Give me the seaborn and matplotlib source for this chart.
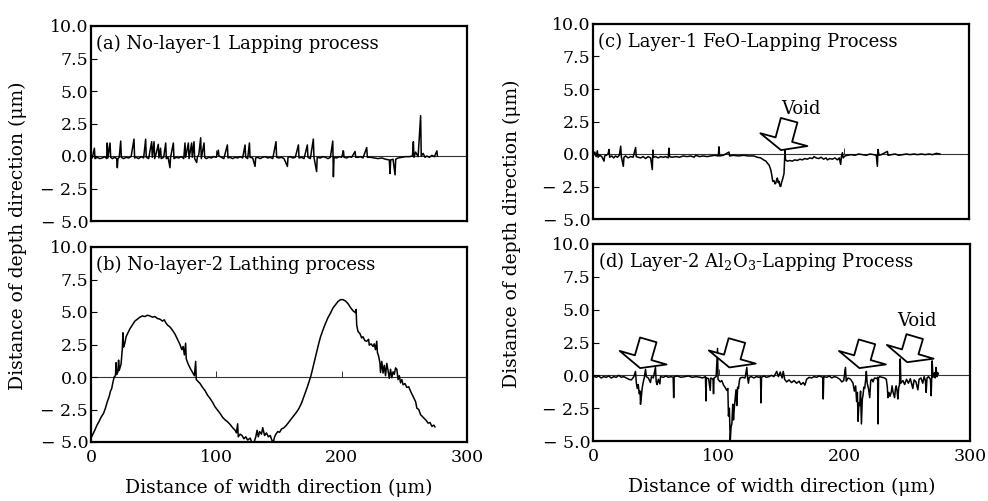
import matplotlib
matplotlib.use("Agg")
import matplotlib.pyplot as plt
import seaborn as sns
import numpy as np
import pandas as pd

# ---------------- data ----------------
a_pts = [(1.0, -0.15), (2.7, 0.6), (3.2, -0.2), (5, -0.1), (7, -0.2), (9, -0.15), (11, -0.05), (12.5, -0.2),
         (13, 1.0), (13.5, -0.15), (15.2, 1.0), (15.7, -0.1), (17, -0.2), (19, -0.1), (20.5, -0.2), (21, -0.9),
         (21.5, -0.2), (22.5, -0.1), (23.7, 1.15), (24.2, -0.1), (26, -0.2), (28, -0.1), (30, -0.15), (32, -0.05),
         (34.3, 1.3), (34.8, -0.15), (36, -0.1), (38, -0.2), (40, -0.05), (42, -0.15), (43.6, 1.3), (44.1, -0.1),
         (46, -0.2), (48.4, 1.1), (48.9, -0.1), (50.3, 1.1), (50.8, -0.2), (52, 0.2), (53.7, 0.9), (54.2, -0.15),
         (55.5, 0.6), (56, -0.2), (58, -0.1), (59.6, 1.0), (60.1, -0.2), (61.5, -0.1), (63, -0.9), (63.5, -0.1),
         (65.7, 1.0), (66.2, -0.2), (68, -0.1), (70, -0.15), (72, -0.05), (74, -0.2), (75, 1.0), (75.5, -0.1),
         (77.7, 1.0), (78.2, -0.2), (80.3, 1.0), (80.8, -0.1), (82.2, 1.1), (82.7, -0.2), (84.3, -0.5), (84.8, -0.1),
         (86, 0.1), (87.5, 1.4), (88, -0.2), (90.2, 1.0), (90.7, -0.1), (92, -0.2), (94, -0.1), (96, -0.15),
         (98, -0.05), (100, -0.1), (101.6, 0.45), (102.1, 0.0), (104, -0.1), (106, -0.2), (108.8, 0.85),
         (109.3, -0.15), (111, -0.1), (113, -0.2), (115, -0.1), (117, -0.15), (119, -0.05), (121, -0.15),
         (122.9, 0.85), (123.4, -0.1), (125, -0.2), (126.4, 1.0), (126.9, -0.1), (129, -0.15), (130.9, -0.8),
         (131.4, -0.15), (133, -0.1), (135, -0.2), (137, -0.1), (139, -0.05), (141, -0.15), (143, -0.1),
         (145, -0.2), (147.6, 1.1), (148.1, -0.1), (150, -0.15), (152, -0.1), (154, -0.2), (156.7, -0.8),
         (157.2, -0.1), (159, -0.05), (161, -0.15), (163, -0.1), (165.5, 0.85), (166, -0.15), (168, -0.1),
         (170, -0.2), (172.6, 0.85), (173.1, -0.1), (175, -0.2), (177.4, 1.3), (177.9, -0.1), (180, -1.2),
         (180.5, -0.1), (183, -0.15), (185, -0.05), (187, -0.1), (189, -0.2), (191, -0.1), (192.9, 1.15),
         (193.4, -1.6), (193.9, -0.1), (196, -0.15), (198, -0.05), (200, -0.1), (201.4, 0.4), (201.9, -0.1),
         (204, -0.15), (206, -0.05), (208, -0.1), (210.7, 0.35), (211.2, -0.1), (213, -0.1), (215, -0.05),
         (217, -0.15), (220, 0.65), (220.5, -0.1), (223, -0.1), (226, -0.15), (229, -0.2), (232, -0.15),
         (235, -0.25), (238, -0.3), (238.6, -1.35), (239.1, -0.3), (241, -0.25), (242.6, -1.45), (243.1, -0.25),
         (245, -0.15), (248, -0.1), (251, -0.05), (254, -0.05), (256.5, 0.0), (257.2, 1.1), (257.7, -0.1),
         (259, 0.3), (261, -0.05), (263, 3.1), (263.5, 0.0), (265, 0.2), (266.5, -0.1), (268, 0.0), (270, -0.1),
         (272, 0.05), (274, -0.05), (276, 0.4), (276.4, 0.0)]

b_pts = [(0.0, -4.7), (1.5, -4.4), (3, -4.1), (4.8, -3.7), (6.5, -3.4), (8, -3.1), (10, -2.8), (11.5, -2.4),
         (13, -1.9), (14.5, -1.5), (15.5, -1.1), (16.5, -0.9), (17.5, -0.4), (18.5, 0.0), (19.5, 0.1), (20, 1.1),
         (20.5, 0.2), (21.5, 0.4), (22, 1.3), (22.5, 0.5), (24, 1.0), (25, 2.2), (25.5, 3.4), (26, 2.3), (27, 2.6),
         (28, 3.1), (29.5, 3.4), (31, 3.7), (33, 4.0), (35, 4.3), (37, 4.45), (39, 4.6), (41, 4.7), (43, 4.65),
         (45, 4.75), (47, 4.7), (49, 4.6), (51, 4.65), (53, 4.5), (55, 4.45), (57, 4.3), (58.5, 4.4), (59.5, 4.2),
         (61, 4.0), (63, 3.85), (65, 3.6), (67, 3.3), (69, 2.9), (71, 2.5), (72.5, 2.1), (73.5, 2.35), (74.5, 1.7),
         (75.5, 2.6), (76, 1.4), (77.5, 1.0), (79, 0.7), (81, 0.35), (82.5, 0.1), (83.5, 1.2), (84, -0.2),
         (85.5, -0.35), (87, -0.5), (89, -0.8), (91, -1.05), (93, -1.4), (95, -1.65), (97, -1.95), (99, -2.3),
         (101, -2.55), (103, -2.8), (105, -3.1), (107, -3.3), (109, -3.45), (111, -3.65), (113, -3.9), (115, -4.1),
         (116, -4.3), (117, -3.6), (117.5, -4.6), (119, -4.4), (120.5, -4.5), (122, -4.75), (123.5, -4.6),
         (125, -4.85), (127, -4.7), (128.5, -5.1), (129.5, -5.35), (130.5, -4.9), (131.5, -4.6), (132.5, -4.1),
         (133.5, -4.6), (134.5, -4.2), (136, -4.4), (137, -3.9), (138.5, -4.5), (140, -4.3), (141.5, -4.6),
         (143, -4.5), (144.5, -4.9), (145.5, -5.0), (146.5, -4.6), (147.5, -4.4), (149, -4.2), (150.5, -4.25),
         (152, -4.0), (154, -3.9), (156, -3.7), (158, -3.45), (160, -3.2), (162, -2.95), (164, -2.7), (166, -2.4),
         (168, -2.0), (169.5, -1.6), (171, -1.2), (172.5, -0.8), (174, -0.35), (175.5, 0.1), (177, 0.7),
         (178.5, 1.3), (180, 1.9), (181.5, 2.5), (183, 3.05), (185, 3.6), (187, 4.1), (189, 4.55), (191, 4.9),
         (193, 5.3), (195, 5.55), (197, 5.8), (199, 5.95), (201, 5.95), (203, 5.85), (205, 5.65), (207, 5.35),
         (209, 5.1), (211, 4.95), (211.5, 5.2), (212, 4.0), (213, 3.5), (214.5, 3.35), (216, 3.0), (217, 3.1),
         (218.5, 2.8), (220, 2.75), (221.5, 2.9), (222, 2.45), (223.5, 2.55), (225, 2.35), (226, 2.55), (227, 2.1),
         (228, 2.75), (228.5, 1.9), (229.5, 1.6), (230.5, 1.1), (231, 0.35), (232, 1.2), (233, 0.3), (234, 0.9),
         (235, 0.1), (236, 1.05), (237, 0.5), (238, -0.1), (239, 0.6), (240, -0.05), (241, 0.4), (242, 0.2),
         (243, 0.7), (244, 0.6), (245, -0.2), (246, 0.1), (247, -0.45), (248, -0.2), (249, -0.6), (250.5, -0.5),
         (252, -0.8), (253.5, -0.75), (255, -1.1), (256.5, -1.4), (258, -1.7), (259, -1.9), (260, -2.4),
         (261.5, -2.5), (263, -2.9), (264.5, -3.05), (266, -3.2), (267.5, -3.35), (269, -3.55), (270.5, -3.5),
         (272, -3.8), (273.5, -3.7), (274.5, -3.85)]

c_pts = [(0.5, -0.1), (1.5, 0.15), (2.5, -0.2), (3.5, 0.25), (4, -0.25), (5.5, -0.1), (7, -0.2), (8.8, -0.55),
         (9.3, -0.15), (10.5, -0.1), (12, 0.0), (12.8, 0.35), (13.3, -0.25), (15, -0.15), (16.5, -0.3), (18, -0.15),
         (19.5, -0.25), (21, -0.1), (22.1, 0.6), (22.6, -0.2), (24.2, -0.95), (24.7, -0.25), (26, -0.15),
         (28, -0.3), (30, -0.2), (32, -0.25), (34, 0.5), (34.5, -0.2), (36, -0.25), (38, -0.3), (40, -0.2),
         (42, -0.35), (44, -0.2), (46, -0.3), (47.3, -1.2), (47.8, 0.3), (48.3, -0.25), (50, -0.2), (52, -0.3),
         (54, -0.2), (56, -0.25), (58, -0.2), (60, -0.3), (60.6, 0.45), (61.1, -0.2), (63, -0.25), (66, -0.2),
         (69, -0.25), (72, -0.15), (75, -0.2), (78, -0.15), (80.6, -0.25), (82, -0.1), (85, -0.2), (88, -0.15),
         (91, -0.2), (94, -0.15), (97, -0.1), (100, -0.15), (100.5, 0.55), (101, -0.15), (104, -0.1),
         (108.5, 0.15), (109, -0.15), (112, -0.1), (116, -0.15), (120, -0.1), (124, -0.15), (128.5, -0.15),
         (131, -0.25), (133.8, -0.3), (136, -0.45), (138, -0.55), (139.1, -0.7), (140.5, -0.85), (141.8, -1.2),
         (142.6, -1.6), (143.4, -2.1), (144.4, -2.05), (145.2, -2.3), (145.8, -2.25), (146.5, -2.0),
         (147.1, -1.85), (147.8, -2.2), (148.4, -2.1), (149.1, -2.45), (149.8, -2.5), (150.4, -2.2),
         (151.1, -2.0), (151.8, -1.75), (152.4, -1.5), (152.8, -0.5), (153.2, 0.3), (153.6, -0.45), (155, -0.55),
         (157, -0.5), (159, -0.55), (161, -0.45), (163, -0.5), (165, -0.4), (167, -0.45), (169, -0.35),
         (171, -0.4), (173, -0.3), (175, -0.35), (176.4, -0.2), (178, -0.3), (180, -0.35), (182, -0.25),
         (184, -0.4), (186, -0.3), (187, -0.45), (189, -0.35), (191, -0.4), (193, -0.3), (195, -0.45),
         (196.5, -0.3), (197.6, -0.8), (198.2, -0.2), (199, 0.1), (199.6, -0.3), (201, -0.15), (203, -0.1),
         (206, -0.05), (209, -0.1), (212, 0.0), (215, -0.05), (218, -0.1), (221, 0.0), (224, -0.05), (226, -0.1),
         (226.9, -0.95), (227.4, 0.35), (228.2, -0.1), (230, -0.05), (232, 0.05), (234.9, 0.2), (235.4, -0.1),
         (238, -0.05), (241, 0.0), (244, -0.1), (247, -0.05), (250, 0.0), (253, -0.05), (256, 0.0), (259, -0.05),
         (262, 0.0), (265, -0.05), (268, 0.0), (271, -0.05), (274, 0.05), (277, 0.0)]

d_pts = [(0.5, -0.05), (2.5, -0.15), (4.5, -0.05), (6.5, -0.2), (8.5, -0.1), (10.5, -0.15), (12.5, -0.05),
         (14.5, -0.2), (16.5, -0.1), (18.5, -0.15), (20.5, 0.0), (22.5, -0.15), (24.5, -0.1), (26.5, -0.2),
         (28.5, -0.3), (30.5, -0.35), (32.5, -0.1), (33.8, 0.3), (34.5, -0.6), (35.2, -1.0), (36, -0.7),
         (36.8, -1.4), (37.5, -1.2), (37.8, -2.2), (38.5, -1.6), (39.1, -1.0), (40, -0.5), (40.8, -0.2),
         (41.8, 0.45), (42.4, -0.1), (44, -0.2), (45.7, -0.55), (46.5, -0.1), (48, -0.2), (49.7, 0.6), (50.3, -0.5),
         (51, -0.7), (52, -0.3), (53.2, -0.65), (53.7, -0.1), (56, -0.15), (58, -0.05), (60, -0.15), (62, -0.1),
         (63.8, -0.15), (64.2, -1.7), (64.6, -0.1), (67, -0.05), (70, -0.15), (73, -0.1), (76, -0.05), (79, -0.15),
         (82, -0.1), (85.4, -0.15), (87, -0.2), (89.5, -0.1), (89.9, -1.95), (90.3, -0.2), (92, -0.25),
         (93.3, -1.15), (93.7, -0.2), (95.5, -0.3), (95.9, -1.4), (96.3, -0.2), (98, -0.1), (99.1, 2.05),
         (99.5, -0.3), (101.2, -0.5), (102.5, -0.4), (103.9, -0.75), (105, -0.9), (106.5, -1.15), (107.3, -1.0),
         (107.8, -3.1), (108.5, -2.5), (109.2, -5.0), (109.9, -3.9), (110.5, -3.7), (111.2, -2.2), (111.8, -3.4),
         (112.5, -2.4), (113.1, -1.8), (113.8, -1.1), (114.4, -2.3), (115.1, -0.9), (115.8, -1.0), (116.5, -0.4),
         (117.1, -0.2), (119, -0.15), (121, -0.2), (122.4, 0.6), (122.9, -0.1), (123.7, -0.6), (124.3, -0.15),
         (126, -0.1), (128, -0.2), (130, -0.1), (132, -0.15), (133.3, -0.1), (133.7, -2.1), (134.1, -0.15),
         (136, -0.05), (138, -0.15), (140, -0.1), (142, 0.0), (144, -0.1), (146.2, 0.3), (147.5, -0.1),
         (149, 0.25), (150.5, -0.2), (151.4, 0.3), (152.5, -0.3), (154.1, -0.5), (156, -0.35), (158, -0.55),
         (160, -0.4), (162, -0.6), (164, -0.45), (165.5, -0.7), (167.3, -0.55), (168.6, -0.75), (170, -0.3),
         (172, -0.15), (174, -0.2), (176, -0.1), (178, -0.15), (180, -0.05), (182.8, -0.15), (183.2, -1.8),
         (183.6, -0.1), (186, -0.15), (188, -0.05), (190, -0.2), (192, -0.1), (194, -0.15), (196.4, -0.3),
         (198, -0.5), (199.5, -0.4), (200.9, 0.6), (201.5, -0.45), (203, -0.2), (205, -0.3), (206.9, -0.6),
         (208, -1.2), (209, -0.8), (209.8, -2.0), (210.4, -1.3), (210.9, -3.5), (211.6, -2.1), (212.2, -2.3),
         (212.9, -1.2), (213.6, -3.7), (214.3, -1.8), (214.9, -1.5), (215.5, -0.9), (216.2, -1.0), (217, -0.3),
         (217.5, 0.3), (218.2, -0.6), (219.2, -1.0), (220.2, -1.7), (221, -0.4), (222, -0.3), (222.8, -0.5),
         (224, -0.2), (226, -0.25), (226.5, -0.15), (226.8, -3.7), (227.2, -0.2), (228.1, -0.1), (230, -0.15),
         (232, -0.2), (233.4, -0.3), (234.2, -0.9), (234.7, -1.7), (235.5, -1.3), (236.3, -1.6), (237.3, -1.3),
         (238, -0.8), (238.7, -1.25), (240, -1.7), (240.7, -1.0), (241.3, -0.8), (242, -1.2), (242.6, -1.8),
         (243.3, -0.9), (243.9, -0.75), (244.5, 1.25), (245, -0.6), (246.6, -0.4), (248, -0.7), (249.5, -0.3),
         (251, -0.6), (252.5, -0.25), (254.5, -1.0), (255.5, -0.35), (257, -0.5), (258.5, -1.1), (259.5, -0.3),
         (261, -0.2), (262.4, -0.6), (263.5, -0.1), (264.5, -0.4), (265.1, -1.3), (265.8, -0.2), (267, -0.1),
         (268.5, -0.3), (269.1, -1.55), (269.9, 1.1), (270.5, -0.15), (271.7, 0.2), (272.3, -0.2), (273, 0.6),
         (273.6, -0.1), (274.3, 0.2), (274.9, 0.1)]

panel_titles = ["(a) No-layer-1 Lapping process",
                "(b) No-layer-2 Lathing process",
                "(c) Layer-1 FeO-Lapping Process",
                r"(d) Layer-2 Al$_2$O$_3$-Lapping Process"]

y_ticks = [-5.0, -2.5, 0.0, 2.5, 5.0, 7.5, 10.0]
y_tick_labels = ["\u2212 5.0", "\u2212 2.5", "0.0", "2.5", "5.0", "7.5", "10.0"]
x_ticks = [0, 100, 200, 300]
x_tick_labels = ["0", "100", "200", "300"]
zero_ticks = [100, 200]

void_label = "Void"
# arrows: (tail, tip) in data coordinates
c_arrows = [((156.5, 2.6), (150.0, 0.3))]
c_void_pos = (166.0, 3.5)
d_arrows = [((44.0, 2.7), (37.5, 0.55)),
            ((114.5, 2.65), (108.5, 0.6)),
            ((218.0, 2.55), (212.0, 0.55)),
            ((256.0, 2.95), (250.0, 1.0))]
d_void_pos = (258.0, 4.1)

x_label = "Distance of width direction (\u03bcm)"
y_label = "Distance of depth direction (\u03bcm)"

# ---------------- styling ----------------
sns.set_style("white")
plt.rcParams["font.family"] = ["DejaVu Serif"]
plt.rcParams["mathtext.fontset"] = "dejavuserif"
for key in ["text.color", "axes.labelcolor", "xtick.color", "ytick.color", "axes.edgecolor"]:
    plt.rcParams[key] = "black"
FS_TICK = 12.5
FS_TXT = 13
FS_LAB = 13.5

fig = plt.figure(figsize=(9.88, 5.01), dpi=100)
W, H = 988, 501


def add_axes(left, top, right, bottom):
    return fig.add_axes([left / W, (H - bottom) / H, (right - left) / W, (bottom - top) / H])


ax_a = add_axes(91, 26, 467, 221)
ax_b = add_axes(91, 247, 467, 442)
ax_c = add_axes(593, 24, 969, 219)
ax_d = add_axes(593, 244, 970, 441)

series = [a_pts, b_pts, c_pts, d_pts]
axes = [ax_a, ax_b, ax_c, ax_d]

for i, (ax, pts, title) in enumerate(zip(axes, series, panel_titles)):
    df = pd.DataFrame(pts, columns=["x", "y"])
    sns.lineplot(data=df, x="x", y="y", ax=ax, color="black", lw=1.1,
                 sort=False, estimator=None)
    ax.set_xlim(0, 300)
    ax.set_ylim(-5, 10)
    ax.set_yticks(y_ticks)
    ax.set_yticklabels(y_tick_labels)
    ax.tick_params(axis="y", direction="in", length=4, width=0.8, labelsize=FS_TICK, pad=2, left=True,
                   colors="black")
    ax.set_xticks(x_ticks)
    if i in (1, 3):
        ax.set_xticklabels(x_tick_labels)
        ax.tick_params(axis="x", length=0, labelsize=FS_TICK, pad=5, colors="black")
        ax.set_xlabel(x_label, fontsize=FS_LAB, labelpad=9, color="black")
    else:
        ax.set_xticklabels([])
        ax.tick_params(axis="x", length=0)
        ax.set_xlabel("")
    ax.set_ylabel("")
    for sp in ax.spines.values():
        sp.set_linewidth(1.6)
        sp.set_color("black")
    # zero reference line carrying small upward ticks
    sec = ax.secondary_xaxis(1 / 3)
    sec.set_xticks(zero_ticks)
    sec.set_xticklabels([])
    sec.tick_params(direction="in", length=4, width=0.7, color="#333333")
    sec.spines["bottom"].set_linewidth(0.8)
    sec.spines["bottom"].set_color("#333333")
    ax.text(0.012, 0.91, title, transform=ax.transAxes, fontsize=FS_TXT, ha="left", va="center",
            color="black")

arrow_style = "simple,head_length=0.6,head_width=2.7,tail_width=0.95"
for ax, arrows, vpos in [(ax_c, c_arrows, c_void_pos), (ax_d, d_arrows, d_void_pos)]:
    for tail, tip in arrows:
        ax.annotate("", xy=tip, xytext=tail,
                    arrowprops=dict(arrowstyle=arrow_style, fc="white", ec="black", lw=1.3,
                                    mutation_scale=13, shrinkA=0, shrinkB=0))
    ax.text(vpos[0], vpos[1], void_label, fontsize=FS_TXT, ha="center", va="center", color="black")

fig.text(18 / W, (H - 236) / H, y_label, rotation=90, fontsize=FS_LAB, ha="center", va="center",
         color="black")
fig.text(512 / W, (H - 234) / H, y_label, rotation=90, fontsize=FS_LAB, ha="center", va="center",
         color="black")

fig.savefig("out.png", dpi=100)
